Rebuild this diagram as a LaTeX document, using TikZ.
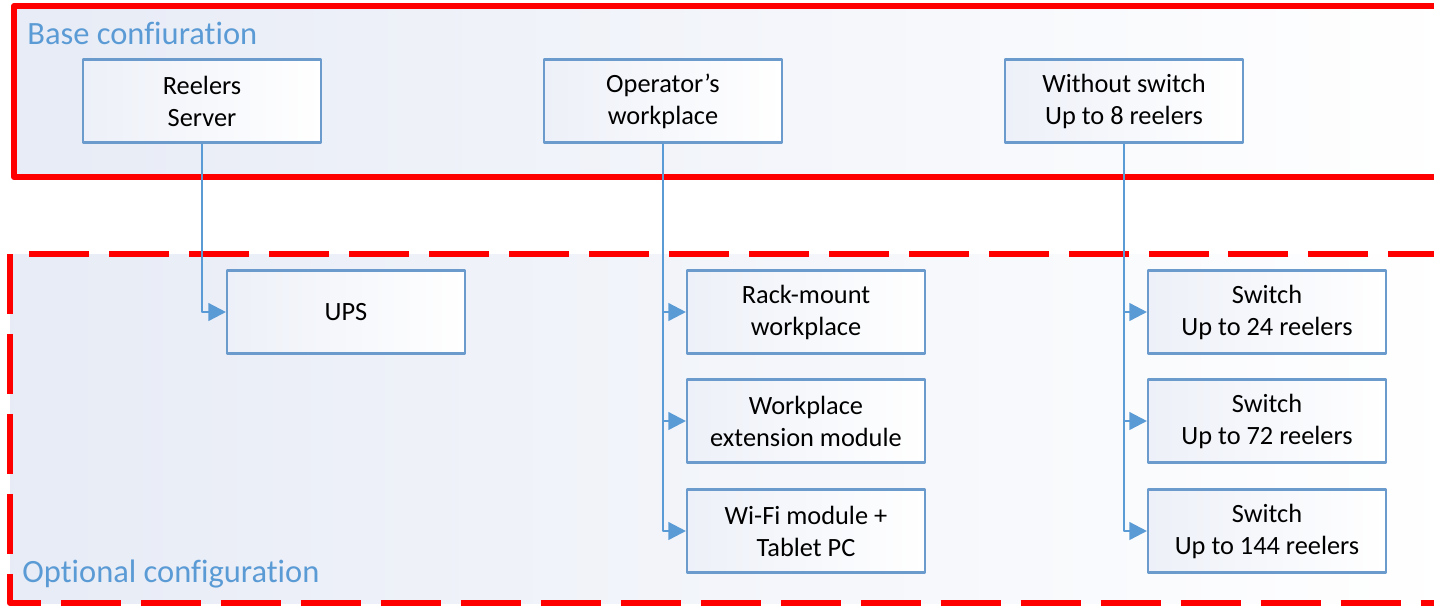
\documentclass[tikz,border=0pt]{standalone}
\usepackage{fontspec}
\setmainfont{Carlito}[Ligatures=NoCommon]
\usetikzlibrary{arrows.meta,positioning}
\definecolor{lineblue}{HTML}{5B9BD5}
\definecolor{boxline}{HTML}{6B9ACD}
\definecolor{paleblue}{HTML}{E3E8F4}
\definecolor{framered}{HTML}{FF0000}

\begin{document}
\begin{tikzpicture}[x=0.02cm,y=-0.02cm,join=round,
    box/.style={draw=boxline,line width=1.2pt,left color=paleblue!65,right color=white,
      minimum width=4.76cm,minimum height=1.66cm,inner sep=0pt,align=center,
      font=\fontsize{15}{18.2}\selectfont},
    conn/.style={draw=lineblue,line width=1.4pt,-{Triangle[length=10pt,width=10pt]}},
    grouplabel/.style={text=lineblue,anchor=west,inner sep=0pt,font=\fontsize{18.5}{22}\selectfont},
    frame/.style={draw=framered,line width=3.4pt,left color=paleblue!85,right color=white}]
  \useasboundingbox (0,0) rectangle (1434,606);
  % group frames
  \path[frame] (14,6) rectangle (1460,177);
  \path[frame,dash pattern=on 1.2cm off 0.4cm] (10,254) rectangle (1460,603);
  \node[grouplabel] (basetxt) at (27,33) {Base confiuration};
  \node[grouplabel] (opttxt) at (22,574) {Optional configuration};
  % base configuration
  \node[box] (srv)  at (202,101)  {Reelers\\Server};
  \node[box] (opw)  at (663,101)  {Operator’s\\workplace};
  \node[box] (nosw) at (1124,101) {Without switch\\Up to 8 reelers};
  % optional configuration
  \node[box] (ups)   at (346,312)  {UPS};
  \node[box] (rack)  at (806,312)  {Rack-mount\\workplace};
  \node[box] (ext)   at (806,421)  {Workplace\\extension module};
  \node[box] (wifi)  at (806,531)  {Wi-Fi module +\\Tablet PC};
  \node[box] (sw24)  at (1267,312) {Switch\\Up to 24 reelers};
  \node[box] (sw72)  at (1267,421) {Switch\\Up to 72 reelers};
  \node[box] (sw144) at (1267,531) {Switch\\Up to 144 reelers};
  % links
  \draw[conn] (srv.south) |- (ups.west);
  \foreach \t in {rack,ext,wifi}
    \draw[conn] (opw.south) |- (\t.west);
  \foreach \t in {sw24,sw72,sw144}
    \draw[conn] (nosw.south) |- (\t.west);
\end{tikzpicture}
\end{document}
